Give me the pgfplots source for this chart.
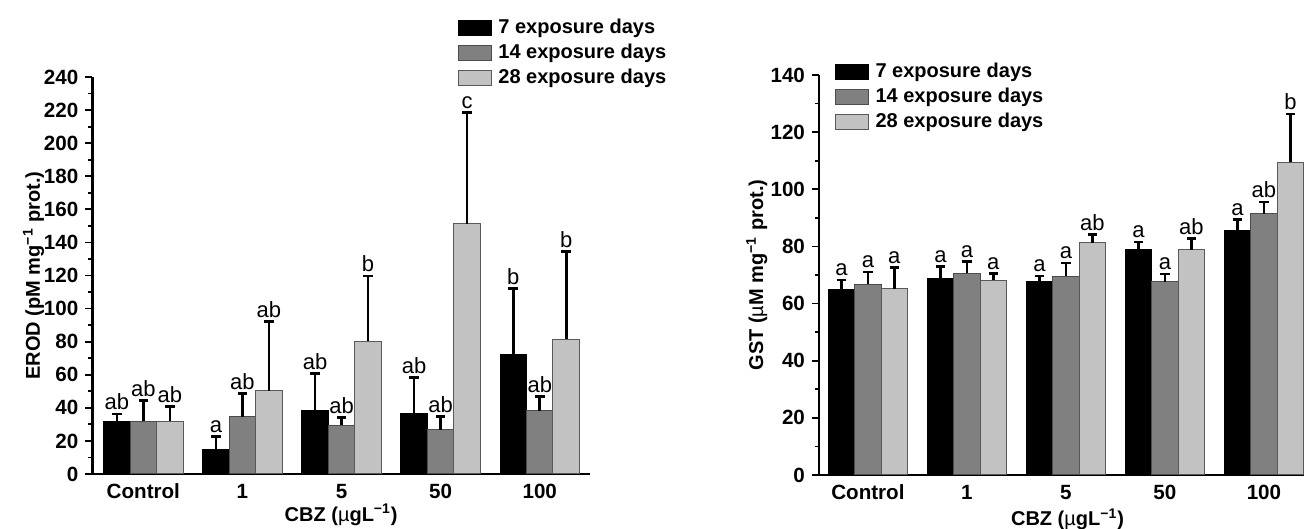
\documentclass[border=0pt]{standalone}
\usepackage{pgfplots}
\pgfplotsset{compat=1.18}
\usepackage{pgfplotstable}
\usepackage{fontspec}
\setmainfont{Liberation Sans}

\definecolor{bargray}{RGB}{128,128,128}
\definecolor{barlight}{RGB}{194,194,194}

% EROD, panel A: mean, error (+), letter
\pgfplotstableread{
cat d7 e7 l7 d14 e14 l14 d28 e28 l28
Control 32 4.3 ab 32 12.5 ab 32 8.8 ab
1 15 7.5 a 34.7 13.8 ab 50.2 42 ab
5 38.4 22.3 ab 29.6 4.7 ab 80.2 39.5 b
50 36.3 22.2 ab 26.6 8.3 ab 151.2 67.3 c
100 72 40 b 38.2 8.5 ab 81.5 53 b
}\erod

% GST, panel B
\pgfplotstableread{
cat d7 e7 l7 d14 e14 l14 d28 e28 l28
Control 65.0 3.3 a 66.7 4.3 a 65.1 7.5 a
1 68.9 4.0 a 70.6 4.1 a 68.2 2.3 a
5 67.8 1.9 a 69.6 4.6 a 81.3 2.9 ab
50 78.9 2.6 a 67.7 2.7 a 78.9 3.8 ab
100 85.7 3.7 a 91.5 4.1 ab 109.4 16.9 b
}\gst

\pgfplotsset{
  panel/.style={
    scale only axis,
    axis x line=bottom, axis y line=left,
    axis line style={-, line width=1.4pt},
    xtick={0,...,4}, xticklabels={Control,1,5,50,100},
    xtick style={draw=none},
    tick align=outside,
    major tick length=3.5pt, minor tick length=2pt,
    ytick style={line width=0.9pt, black},
    minor y tick num=1,
    ymin=0,
    tick label style={font=\fontsize{10.3}{12}\selectfont\bfseries},
    /pgf/number format/assume math mode=true,
    xticklabel style={yshift=2pt},
    xlabel={\bfseries CBZ ({\mdseries µ}gL\textsuperscript{−1})},
    legend image code/.code={\draw[##1, line width=0.5pt] (0pt,-3.75pt) rectangle (16.5pt,3.75pt);},
    legend cell align=left,
    legend style={draw=none, fill=none, font=\bfseries, inner sep=0pt,
      nodes={text height=7.5pt, text depth=2pt, inner ysep=1.5pt, inner xsep=3.2pt}},
  },
  errb/.style={
    error bars/y dir=plus, error bars/y explicit,
    error bars/error bar style={line width=1.3pt, black},
    error bars/error mark options={rotate=90, mark size=2.4pt, line width=1.3pt, black},
  },
  bars/.style={ybar, bar width=0.267, bar shift=0, line width=0.5pt, forget plot, errb},
  lbl/.style={forget plot, draw=none, mark=none, nodes near coords,
    point meta=explicit symbolic,
    every node near coord/.style={font=\fontsize{11}{13}\selectfont, anchor=south, inner sep=1.8pt, black}},
}

\begin{document}
\begin{tikzpicture}
\path[use as bounding box] (0,0) rectangle (652pt,264.5pt);
\clip (0,0) rectangle (652pt,264.5pt);

% ---------- panel A ----------
\begin{axis}[panel,
  at={(46.15pt,27.5pt)}, anchor=south west,
  width=248.85pt, height=198.5pt,
  xmin=-0.515, xmax=4.507,
  ymax=240, ytick={0,20,...,240},
  ylabel={\bfseries EROD (pM mg\textsuperscript{−1} prot.)},
  every axis y label/.style={at={(axis description cs:-0.118,0.5)}, rotate=90, anchor=center},
  every axis x label/.style={at={(axis description cs:0.5,-0.103)}, anchor=center},
  legend style={at={(axis description cs:0.734,1.157)}, anchor=north west},
]
\addplot[bars, fill=black, draw=black]
  table[x expr=\coordindex-0.267, y=d7, y error=e7] {\erod};
\addplot[bars, fill=bargray, draw=black!70]
  table[x expr=\coordindex, y=d14, y error=e14] {\erod};
\addplot[bars, fill=barlight, draw=black!65]
  table[x expr=\coordindex+0.267, y=d28, y error=e28] {\erod};
\addplot[lbl] table[x expr=\coordindex-0.267, y expr=\thisrow{d7}+\thisrow{e7}, meta=l7] {\erod};
\addplot[lbl] table[x expr=\coordindex, y expr=\thisrow{d14}+\thisrow{e14}, meta=l14] {\erod};
\addplot[lbl] table[x expr=\coordindex+0.267, y expr=\thisrow{d28}+\thisrow{e28}, meta=l28] {\erod};
\addlegendimage{fill=black, draw=black}
\addlegendentry{7 exposure days}
\addlegendimage{fill=bargray, draw=black!70}
\addlegendentry{14 exposure days}
\addlegendimage{fill=barlight, draw=black!65}
\addlegendentry{28 exposure days}
\node[font=\bfseries] at (axis description cs:-0.147,0.947) {A};
\end{axis}

% ---------- panel B ----------
\begin{axis}[panel,
  at={(409.5pt,27pt)}, anchor=south west,
  width=248.5pt, height=200pt,
  xmin=-0.494, xmax=4.526,
  ymax=140, ytick={0,20,...,140},
  ylabel={\bfseries GST ({\mdseries µ}M mg\textsuperscript{−1} prot.)},
  every axis y label/.style={at={(axis description cs:-0.125,0.5)}, rotate=90, anchor=center},
  every axis x label/.style={at={(axis description cs:0.5,-0.11)}, anchor=center},
  legend style={at={(axis description cs:0.0316,1.04)}, anchor=north west},
]
\addplot[bars, fill=black, draw=black]
  table[x expr=\coordindex-0.267, y=d7, y error=e7] {\gst};
\addplot[bars, fill=bargray, draw=black!70]
  table[x expr=\coordindex, y=d14, y error=e14] {\gst};
\addplot[bars, fill=barlight, draw=black!65]
  table[x expr=\coordindex+0.267, y=d28, y error=e28] {\gst};
\addplot[lbl] table[x expr=\coordindex-0.267, y expr=\thisrow{d7}+\thisrow{e7}, meta=l7] {\gst};
\addplot[lbl] table[x expr=\coordindex, y expr=\thisrow{d14}+\thisrow{e14}, meta=l14] {\gst};
\addplot[lbl] table[x expr=\coordindex+0.267, y expr=\thisrow{d28}+\thisrow{e28}, meta=l28] {\gst};
\addlegendimage{fill=black, draw=black}
\addlegendentry{7 exposure days}
\addlegendimage{fill=bargray, draw=black!70}
\addlegendentry{14 exposure days}
\addlegendimage{fill=barlight, draw=black!65}
\addlegendentry{28 exposure days}
\node[font=\bfseries] at (axis description cs:-0.119,0.9275) {B};
\end{axis}
\end{tikzpicture}
\end{document}
